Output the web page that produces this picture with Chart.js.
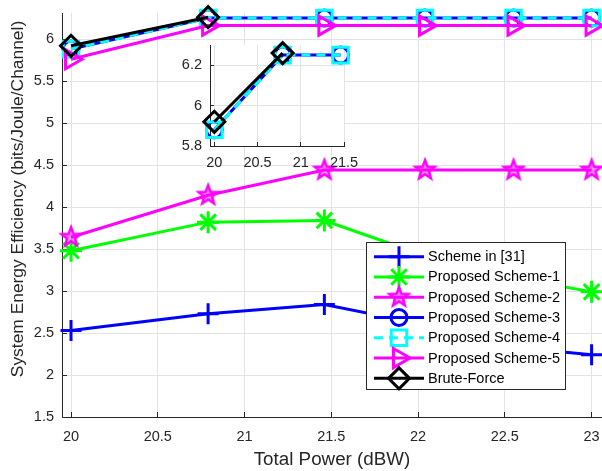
<!DOCTYPE html>
<html lang="en">
<head>
<meta charset="UTF-8">
<title>System Energy Efficiency vs Total Power</title>
<script src="https://cdn.jsdelivr.net/npm/chart.js"></script>
<style>
  body { margin: 0; background: #fff; }
  #wrap { position: relative; width: 602px; height: 471px; }
  #main-chart { position: absolute; left: 0; top: 0; }
  #inset-chart { position: absolute; left: 165px; top: 35px; }
</style>
</head>
<body>
<div id="wrap">
  <canvas id="main-chart" width="602" height="471"></canvas>
  <canvas id="inset-chart" width="200" height="140"></canvas>
</div>
<script>
// total power in dBW (10*log10 of 100..200 W)
const totalPower = [20, 20.79, 21.46, 22.04, 22.55, 23.0];
const xTicks = [20, 20.5, 21, 21.5, 22, 22.5, 23];
const yTicks = [1.5, 2, 2.5, 3, 3.5, 4, 4.5, 5, 5.5, 6];
const insetXTicks = [20, 20.5, 21, 21.5];
const insetYTicks = [5.8, 6, 6.2];

// energy efficiency (bits/Joule/Channel)
const schemeIn31 = [2.53, 2.73, 2.84, 2.60, 2.33, 2.24];
const scheme1 = [3.48, 3.82, 3.84, 3.42, 3.16, 2.99];
const scheme2 = [3.64, 4.14, 4.44, 4.44, 4.44, 4.44];
const scheme3 = [5.88, 6.25, 6.25, 6.25, 6.25, 6.25];
const scheme4 = [5.88, 6.25, 6.25, 6.25, 6.25, 6.25];
const scheme5 = [5.76, 6.16, 6.16, 6.16, 6.16, 6.16];
const bruteForce = [5.92, 6.26];

const FONT = '"Liberation Sans", Arial, Helvetica, sans-serif';
const AXIS_COLOR = '#262626';
const GRID_COLOR = '#e3e3e3';

// matlab style pentagram marker
function makePentagram(color) {
    const c = document.createElement('canvas');
    c.width = 32; c.height = 32;
    const g = c.getContext('2d');
    g.beginPath();
    for (let i = 0; i < 10; i++) {
        const r = i % 2 === 0 ? 10 : 4.2;
        const a = -Math.PI / 2 + i * Math.PI / 5;
        const px = 16 + r * Math.cos(a), py = 16 + r * Math.sin(a);
        if (i === 0) g.moveTo(px, py); else g.lineTo(px, py);
    }
    g.closePath();
    g.fillStyle = 'rgba(255,0,255,0.45)';
    g.fill();
    g.strokeStyle = color;
    g.lineWidth = 2.5;
    g.stroke();
    return c;
}
const pentagram = makePentagram('#ff00ff');

function series(label, ys, color, style, extra) {
    return Object.assign({
        label: label,
        data: ys.map((y, i) => ({ x: totalPower[i], y: y })),
        borderColor: color,
        backgroundColor: 'rgba(0,0,0,0)',
        pointBorderColor: color,
        pointBackgroundColor: 'rgba(0,0,0,0)',
        borderWidth: 3,
        pointBorderWidth: 3,
        pointStyle: style,
        pointRadius: 10,
        pointHoverRadius: 10,
        tension: 0,
        fill: false,
        clip: false
    }, extra);
}

const inwardTicks = {
    id: 'inwardTicks',
    beforeDatasetsDraw(chart, args, opts) {
        const { ctx, chartArea: a, scales: { x, y } } = chart;
        const len = opts.length || 5;
        ctx.save();
        ctx.strokeStyle = AXIS_COLOR;
        ctx.lineWidth = 1;
        ctx.beginPath();
        x.ticks.forEach(t => {
            const px = Math.round(x.getPixelForValue(t.value) - 0.5) + 0.5;
            ctx.moveTo(px, a.bottom);
            ctx.lineTo(px, a.bottom - len);
        });
        y.ticks.forEach(t => {
            const py = Math.round(y.getPixelForValue(t.value) - 0.5) + 0.5;
            ctx.moveTo(a.left, py);
            ctx.lineTo(a.left + len, py);
        });
        ctx.stroke();
        ctx.restore();
    }
};

const boxLegend = {
    id: 'boxLegend',
    afterDatasetsDraw(chart) {
        const ctx = chart.ctx;
        const left = 366.5, top = 242.5, w = 199, h = 147;
        ctx.save();
        ctx.fillStyle = '#fff';
        ctx.fillRect(left, top, w, h);
        ctx.strokeStyle = AXIS_COLOR;
        ctx.lineWidth = 1;
        ctx.strokeRect(left, top, w, h);
        chart.data.datasets.forEach((ds, i) => {
            const y = 256.7 + i * 20.27;
            ctx.setLineDash(ds.borderDash || []);
            ctx.strokeStyle = ds.borderColor;
            ctx.lineWidth = ds.borderWidth;
            ctx.beginPath();
            ctx.moveTo(374, y);
            ctx.lineTo(424, y);
            ctx.stroke();
            ctx.setLineDash([]);
            ctx.fillStyle = 'rgba(0,0,0,0)';
            ctx.lineWidth = ds.pointBorderWidth;
            Chart.helpers.drawPoint(ctx, {
                pointStyle: ds.pointStyle,
                radius: ds.pointRadius,
                rotation: ds.pointRotation || 0,
                borderWidth: ds.pointBorderWidth
            }, 399, y);
            ctx.fillStyle = '#000';
            ctx.font = '14.5px ' + FONT;
            ctx.textBaseline = 'middle';
            ctx.textAlign = 'left';
            ctx.fillText(ds.label, 428, y + 0.5);
        });
        ctx.restore();
    }
};

const yTitle = {
    id: 'yTitle',
    afterDraw(chart) {
        const ctx = chart.ctx;
        ctx.save();
        ctx.translate(18, 199);
        ctx.rotate(-Math.PI / 2);
        ctx.font = '17.4px ' + FONT;
        ctx.fillStyle = AXIS_COLOR;
        ctx.textAlign = 'center';
        ctx.textBaseline = 'middle';
        ctx.fillText('System Energy Efficiency (bits/Joule/Channel)', 0, 0);
        ctx.restore();
    }
};

const whiteArea = {
    id: 'whiteArea',
    beforeDraw(chart) {
        const a = chart.chartArea;
        chart.ctx.save();
        chart.ctx.fillStyle = '#fff';
        chart.ctx.fillRect(a.left, a.top, a.right - a.left, a.bottom - a.top);
        chart.ctx.restore();
    }
};

function axis(min, max, tickVals, opts) {
    return {
        type: 'linear',
        min: min,
        max: max,
        afterBuildTicks: s => { s.ticks = tickVals.map(v => ({ value: v })); },
        afterFit: s => {
            if (s.isHorizontal()) { s.height = opts.size; s.paddingLeft = 0; s.paddingRight = 0; }
            else { s.width = opts.size; s.paddingTop = 0; s.paddingBottom = 0; }
        },
        grid: { color: GRID_COLOR, drawTicks: true, tickLength: opts.gap, tickColor: 'rgba(0,0,0,0)' },
        border: { color: AXIS_COLOR, width: 1 },
        ticks: {
            color: AXIS_COLOR,
            font: { family: FONT, size: 14.5 },
            padding: 0,
            autoSkip: false,
            maxRotation: 0,
            callback: v => String(v)
        },
        title: opts.title || { display: false }
    };
}

const mainChart = new Chart(document.getElementById('main-chart'), {
    type: 'line',
    data: {
        datasets: [
            series('Scheme in [31]', schemeIn31, '#0000ff', 'cross', { pointRadius: 10.5, order: 6 }),
            series('Proposed Scheme-1', scheme1, '#00ff00', 'star', { pointRadius: 11, order: 5 }),
            series('Proposed Scheme-2', scheme2, '#ff00ff', pentagram, { order: 4 }),
            series('Proposed Scheme-3', scheme3, '#0000ff', 'circle', { pointRadius: 8, order: 3 }),
            series('Proposed Scheme-4', scheme4, '#00ffff', 'rect', { pointRadius: 11, borderDash: [9, 6], order: 2 }),
            series('Proposed Scheme-5', scheme5, '#ff00ff', 'triangle', { pointRadius: 11, pointRotation: 90, order: 1 }),
            series('Brute-Force', bruteForce, '#000000', 'rectRot', { pointRadius: 10.5, order: 0 })
        ]
    },
    options: {
        responsive: false,
        animation: false,
        devicePixelRatio: 1,
        events: [],
        layout: { autoPadding: false, padding: { left: 0, right: 0, top: 13, bottom: 0 } },
        plugins: {
            legend: { display: false },
            tooltip: { enabled: false },
            inwardTicks: { length: 5 }
        },
        scales: {
            x: axis(19.948, 23.06, xTicks, {
                gap: 11,
                size: 54,
                title: {
                    display: true,
                    text: 'Total Power (dBW)',
                    color: AXIS_COLOR,
                    font: { family: FONT, size: 18.8 },
                    padding: { top: 0, bottom: 0 }
                }
            }),
            y: axis(1.5, 6.31, yTicks, { gap: 8, size: 62 })
        }
    },
    plugins: [inwardTicks, boxLegend, yTitle]
});

const insetChart = new Chart(document.getElementById('inset-chart'), {
    type: 'line',
    data: {
        datasets: [
            series('Proposed Scheme-3', scheme3.slice(0, 3), '#0000ff', 'circle', { pointRadius: 8, order: 2 }),
            series('Proposed Scheme-4', scheme4.slice(0, 3), '#00ffff', 'rect', { pointRadius: 11, borderDash: [9, 6], order: 1 }),
            series('Brute-Force', bruteForce, '#000000', 'rectRot', { pointRadius: 10.5, order: 0 })
        ]
    },
    options: {
        responsive: false,
        animation: false,
        devicePixelRatio: 1,
        events: [],
        layout: { autoPadding: false, padding: { left: 0, right: 21, top: 10, bottom: 0 } },
        plugins: {
            legend: { display: false },
            tooltip: { enabled: false },
            inwardTicks: { length: 4 }
        },
        scales: {
            x: axis(19.95, 21.5, insetXTicks, { gap: 8, size: 29 }),
            y: axis(5.8, 6.3, insetYTicks, { gap: 8, size: 45 })
        }
    },
    plugins: [whiteArea, inwardTicks]
});
</script>
</body>
</html>
